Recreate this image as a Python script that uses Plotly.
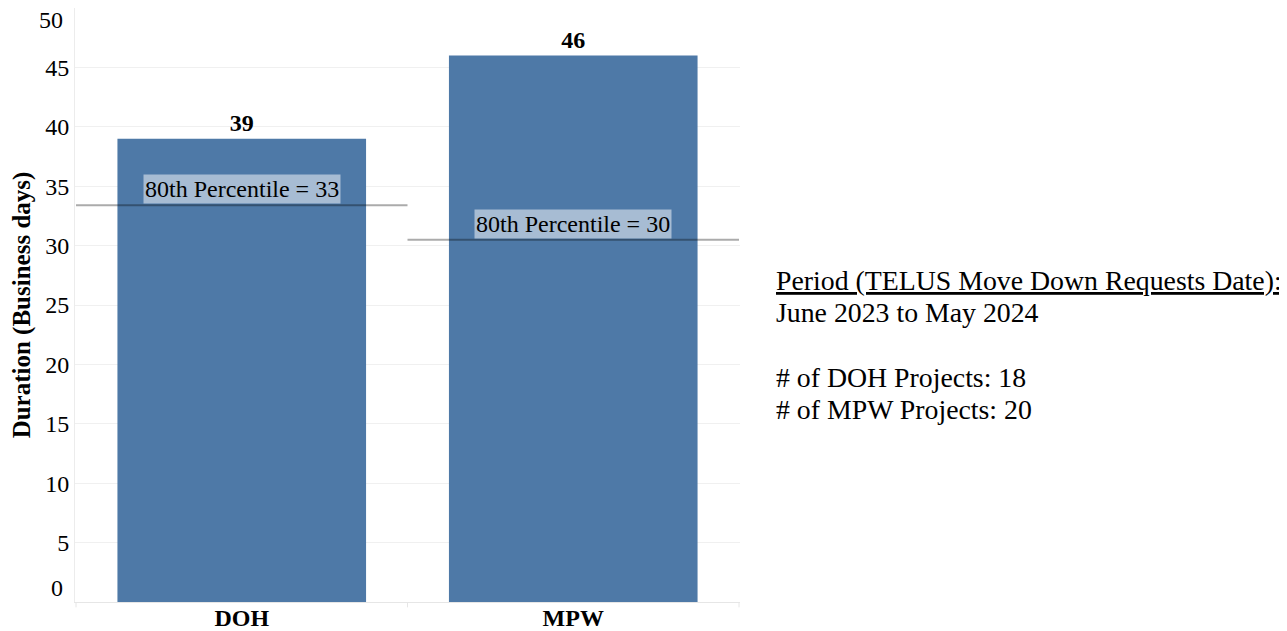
import plotly.graph_objects as go

# data
categorias = ['DOH', 'MPW']
duracion = [39, 46]
percentil_80 = [33.4, 30.5]
etiquetas_percentil = ['80th Percentile = 33', '80th Percentile = 30']
texto_periodo = ['<u>Period (TELUS Move Down Requests Date):</u>',
                 'June 2023 to May 2024',
                 '',
                 '# of DOH Projects: 18',
                 '# of MPW Projects: 20']
ticks_y = [5, 10, 15, 20, 25, 30, 35, 40, 45]

fuente = "Times New Roman, Liberation Serif, serif"
azul = '#4e79a7'

fig = go.Figure(go.Bar(
    x=categorias,
    y=duracion,
    marker=dict(color=azul, line=dict(width=0)),
    text=[str(v) for v in duracion],
    textposition='outside',
    textfont=dict(family=fuente, size=24, color='black', weight='bold'),
    cliponaxis=False,
    hoverinfo='skip'))

# lineas del percentil 80 (una por columna)
for i, p in enumerate(percentil_80):
    fig.add_shape(type='line', xref='x', yref='y',
                  x0=i - 0.5, x1=i + 0.5, y0=p, y1=p,
                  line=dict(color='rgba(0,0,0,0.33)', width=2))
    fig.add_annotation(x=categorias[i], y=p, xref='x', yref='y',
                       text=etiquetas_percentil[i], showarrow=False,
                       yanchor='bottom', yshift=1,
                       bgcolor='rgba(255,255,255,0.5)', borderpad=1,
                       font=dict(family=fuente, size=24, color='black'))

# marcas pequeñas en los limites de categoria
for xb in [-0.5, 0.5, 1.5]:
    fig.add_shape(type='line', xref='x', yref='paper', x0=xb, x1=xb,
                  y0=0, y1=-0.009, line=dict(color='#e6e6e6', width=1))

# 0 y 50 desplazados como en el original
for v, dy in [(0, 14), (50, -12)]:
    fig.add_annotation(x=0, y=v, xref='paper', yref='y', text=str(v),
                       showarrow=False, xanchor='right', xshift=-10, yshift=dy,
                       font=dict(family=fuente, size=24, color='black'))

# texto de la derecha
y_lineas = [280, 313, 345, 377, 409]
for t, yp in zip(texto_periodo, y_lineas):
    if t == '':
        continue
    fig.add_annotation(x=(774 - 75) / 665, y=(602 - yp) / 594,
                       xref='paper', yref='paper', text=t, showarrow=False,
                       xanchor='left', yanchor='middle',
                       font=dict(family=fuente, size=27.8, color='black'))

fig.update_layout(
    width=1279, height=623,
    margin=dict(l=67, r=547, t=0, b=29),
    plot_bgcolor='white', paper_bgcolor='white',
    bargap=0.25,
    showlegend=False,
    font=dict(family=fuente, size=24, color='black'),
    yaxis=dict(range=[0, 50], tickvals=ticks_y, showgrid=True,
               gridcolor='#f0f0f0', gridwidth=1, zeroline=False,
               showline=True, linecolor='#ececec', ticks='',
               automargin=False,
               tickfont=dict(family=fuente, size=24, color='black'),
               title=dict(text='<b>Duration (Business days)</b>',
                          font=dict(family=fuente, size=25, color='black'),
                          standoff=20)),
    xaxis=dict(showgrid=False, showline=True, linecolor='#e6e6e6',
               ticks='', automargin=False, ticklabelstandoff=-6,
               tickfont=dict(family=fuente, size=24, color='black', weight='bold')),
)

fig.write_html("out.html")
